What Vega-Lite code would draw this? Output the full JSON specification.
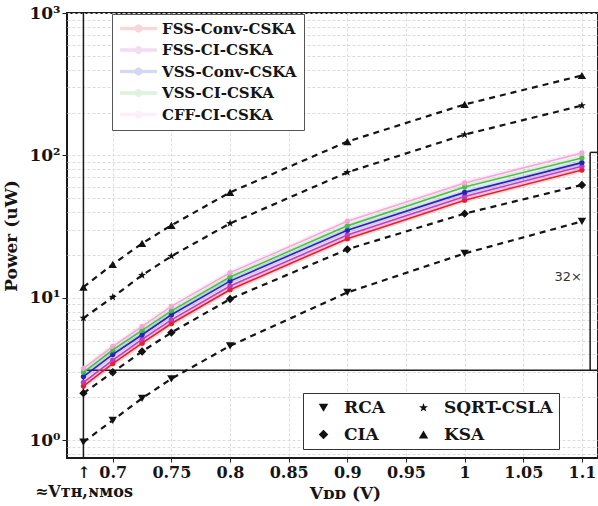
{
  "$schema": "https://vega.github.io/schema/vega-lite/v6.json",
  "width": 531,
  "height": 445,
  "autosize": {"type": "none"},
  "padding": {"left": 67, "top": 13, "right": 0, "bottom": 48},
  "background": "white",
  "config": {
    "view": {"stroke": "#1a1a1a", "strokeWidth": 2},
    "font": "DejaVu Serif",
    "axis": {
      "labelFont": "DejaVu Serif",
      "labelFontWeight": "bold",
      "labelFontSize": 16,
      "labelColor": "#151515",
      "titleFont": "DejaVu Serif",
      "titleFontWeight": "bold",
      "titleColor": "#151515",
      "domain": false,
      "tickColor": "#222",
      "gridColor": "#dcdcdc",
      "gridDash": [3, 2],
      "gridWidth": 1
    }
  },
  "datasets": {
    "designs": [
      {"v": 0.675, "p": 2.4, "s": "FSS-Conv-CSKA"},
      {"v": 0.7, "p": 3.45, "s": "FSS-Conv-CSKA"},
      {"v": 0.725, "p": 4.8, "s": "FSS-Conv-CSKA"},
      {"v": 0.75, "p": 6.6, "s": "FSS-Conv-CSKA"},
      {"v": 0.8, "p": 11.4, "s": "FSS-Conv-CSKA"},
      {"v": 0.9, "p": 26, "s": "FSS-Conv-CSKA"},
      {"v": 1.0, "p": 48.5, "s": "FSS-Conv-CSKA"},
      {"v": 1.1, "p": 79, "s": "FSS-Conv-CSKA"},
      {"v": 0.675, "p": 2.55, "s": "FSS-CI-CSKA"},
      {"v": 0.7, "p": 3.65, "s": "FSS-CI-CSKA"},
      {"v": 0.725, "p": 5.1, "s": "FSS-CI-CSKA"},
      {"v": 0.75, "p": 7.0, "s": "FSS-CI-CSKA"},
      {"v": 0.8, "p": 12.1, "s": "FSS-CI-CSKA"},
      {"v": 0.9, "p": 27.6, "s": "FSS-CI-CSKA"},
      {"v": 1.0, "p": 51.5, "s": "FSS-CI-CSKA"},
      {"v": 1.1, "p": 84, "s": "FSS-CI-CSKA"},
      {"v": 0.675, "p": 2.8, "s": "VSS-Conv-CSKA"},
      {"v": 0.7, "p": 4.0, "s": "VSS-Conv-CSKA"},
      {"v": 0.725, "p": 5.5, "s": "VSS-Conv-CSKA"},
      {"v": 0.75, "p": 7.6, "s": "VSS-Conv-CSKA"},
      {"v": 0.8, "p": 13.1, "s": "VSS-Conv-CSKA"},
      {"v": 0.9, "p": 29.8, "s": "VSS-Conv-CSKA"},
      {"v": 1.0, "p": 55, "s": "VSS-Conv-CSKA"},
      {"v": 1.1, "p": 89, "s": "VSS-Conv-CSKA"},
      {"v": 0.675, "p": 3.0, "s": "VSS-CI-CSKA"},
      {"v": 0.7, "p": 4.3, "s": "VSS-CI-CSKA"},
      {"v": 0.725, "p": 5.9, "s": "VSS-CI-CSKA"},
      {"v": 0.75, "p": 8.1, "s": "VSS-CI-CSKA"},
      {"v": 0.8, "p": 14.0, "s": "VSS-CI-CSKA"},
      {"v": 0.9, "p": 32, "s": "VSS-CI-CSKA"},
      {"v": 1.0, "p": 60, "s": "VSS-CI-CSKA"},
      {"v": 1.1, "p": 96, "s": "VSS-CI-CSKA"},
      {"v": 0.675, "p": 3.2, "s": "CFF-CI-CSKA"},
      {"v": 0.7, "p": 4.55, "s": "CFF-CI-CSKA"},
      {"v": 0.725, "p": 6.3, "s": "CFF-CI-CSKA"},
      {"v": 0.75, "p": 8.7, "s": "CFF-CI-CSKA"},
      {"v": 0.8, "p": 15.0, "s": "CFF-CI-CSKA"},
      {"v": 0.9, "p": 34.5, "s": "CFF-CI-CSKA"},
      {"v": 1.0, "p": 64, "s": "CFF-CI-CSKA"},
      {"v": 1.1, "p": 104, "s": "CFF-CI-CSKA"}
    ],
    "adders": [
      {"v": 0.675, "p": 0.97, "a": "RCA"},
      {"v": 0.7, "p": 1.38, "a": "RCA"},
      {"v": 0.725, "p": 1.97, "a": "RCA"},
      {"v": 0.75, "p": 2.7, "a": "RCA"},
      {"v": 0.8, "p": 4.6, "a": "RCA"},
      {"v": 0.9, "p": 10.9, "a": "RCA"},
      {"v": 1.0, "p": 20.5, "a": "RCA"},
      {"v": 1.1, "p": 34.4, "a": "RCA"},
      {"v": 0.675, "p": 2.14, "a": "CIA"},
      {"v": 0.7, "p": 3.0, "a": "CIA"},
      {"v": 0.725, "p": 4.2, "a": "CIA"},
      {"v": 0.75, "p": 5.7, "a": "CIA"},
      {"v": 0.8, "p": 9.8, "a": "CIA"},
      {"v": 0.9, "p": 21.9, "a": "CIA"},
      {"v": 1.0, "p": 39, "a": "CIA"},
      {"v": 1.1, "p": 62, "a": "CIA"},
      {"v": 0.675, "p": 7.2, "a": "SQRT-CSLA"},
      {"v": 0.7, "p": 10.1, "a": "SQRT-CSLA"},
      {"v": 0.725, "p": 14.4, "a": "SQRT-CSLA"},
      {"v": 0.75, "p": 19.6, "a": "SQRT-CSLA"},
      {"v": 0.8, "p": 33.3, "a": "SQRT-CSLA"},
      {"v": 0.9, "p": 76, "a": "SQRT-CSLA"},
      {"v": 1.0, "p": 140, "a": "SQRT-CSLA"},
      {"v": 1.1, "p": 224, "a": "SQRT-CSLA"},
      {"v": 0.675, "p": 11.9, "a": "KSA"},
      {"v": 0.7, "p": 17.2, "a": "KSA"},
      {"v": 0.725, "p": 24.1, "a": "KSA"},
      {"v": 0.75, "p": 32.3, "a": "KSA"},
      {"v": 0.8, "p": 55, "a": "KSA"},
      {"v": 0.9, "p": 125, "a": "KSA"},
      {"v": 1.0, "p": 228, "a": "KSA"},
      {"v": 1.1, "p": 364, "a": "KSA"}
    ]
  },
  "layer": [
    {
      "data": {"values": [{"x": 0.675}]},
      "mark": {"type": "rule", "color": "#1a1a1a", "strokeWidth": 1.5},
      "encoding": {
        "x": {
          "field": "x", "type": "quantitative",
          "scale": {"domain": [0.661, 1.1137], "nice": false, "zero": false},
          "axis": {
            "title": "Vᴅᴅ (V)",
            "titleFontSize": 17,
            "titleX": 278,
            "titleY": 27,
            "values": [0.675, 0.7, 0.75, 0.8, 0.85, 0.9, 0.95, 1, 1.05, 1.1],
            "labelExpr": "datum.value < 0.69 ? ['↑', '≈Vᴛʜ,ɴᴍᴏꜱ        '] : format(datum.value, '.3~g')",
            "labelOverlap": false,
            "labelFlush": false,
            "labelBound": false,
            "labelLineHeight": 19,
            "labelPadding": 2,
            "tickSize": 4,
            "tickOpacity": {"condition": {"test": "datum.value < 0.69", "value": 0}, "value": 1},
            "gridOpacity": {"condition": {"test": "datum.value < 0.69", "value": 0}, "value": 1}
          }
        }
      }
    },
    {
      "data": {"values": [{"x": 0.675, "x2": 1.1137, "y": 3.1}]},
      "mark": {"type": "rule", "color": "#1a1a1a", "strokeWidth": 1.5},
      "encoding": {
        "x": {"field": "x", "type": "quantitative"},
        "x2": {"field": "x2"},
        "y": {
          "field": "y", "type": "quantitative",
          "scale": {"type": "log", "domain": [0.75, 1000], "nice": false},
          "axis": {
            "title": "Power (uW)",
            "titleFontSize": 17,
            "titlePadding": 8,
            "labelFontSize": 17,
            "values": [0.8, 0.9, 1, 2, 3, 4, 5, 6, 7, 8, 9, 10, 20, 30, 40, 50, 60, 70, 80, 90, 100, 200, 300, 400, 500, 600, 700, 800, 900, 1000],
            "labelExpr": "abs(log(datum.value)/LN10 - round(log(datum.value)/LN10)) < 0.000001 ? '10' + ['⁰','¹','²','³'][round(log(datum.value)/LN10)] : ''",
            "labelOverlap": false,
            "labelBound": false,
            "labelFlush": false,
            "labelPadding": 2,
            "tickSize": 5,
            "tickOpacity": {"condition": {"test": "abs(log(datum.value)/LN10 - round(log(datum.value)/LN10)) < 0.000001", "value": 1}, "value": 0}
          }
        }
      }
    },
    {
      "data": {"values": [{"x": 1.107, "y": 3.1, "y2": 105}]},
      "mark": {"type": "rule", "color": "#1a1a1a", "strokeWidth": 1.5},
      "encoding": {
        "x": {"field": "x", "type": "quantitative"},
        "y": {"field": "y", "type": "quantitative"},
        "y2": {"field": "y2"}
      }
    },
    {
      "data": {"values": [{"x": 1.107, "x2": 1.1137, "y": 105}]},
      "mark": {"type": "rule", "color": "#1a1a1a", "strokeWidth": 1.5},
      "encoding": {
        "x": {"field": "x", "type": "quantitative"},
        "x2": {"field": "x2"},
        "y": {"field": "y", "type": "quantitative"}
      }
    },
    {
      "data": {"values": [{"x": 1.1, "y": 13.9, "t": "32×"}]},
      "mark": {"type": "text", "align": "right", "baseline": "middle", "font": "DejaVu Sans", "fontSize": 13, "color": "#333"},
      "encoding": {
        "x": {"field": "x", "type": "quantitative"},
        "y": {"field": "y", "type": "quantitative"},
        "text": {"field": "t"}
      }
    },
    {
      "data": {"name": "designs"},
      "mark": {"type": "point", "filled": true, "opacity": 1, "size": 28, "shape": "circle"},
      "encoding": {
        "x": {"field": "v", "type": "quantitative"},
        "y": {"field": "p", "type": "quantitative"},
        "color": {
          "field": "s", "type": "nominal",
          "scale": {
            "domain": ["FSS-Conv-CSKA", "FSS-CI-CSKA", "VSS-Conv-CSKA", "VSS-CI-CSKA", "CFF-CI-CSKA"],
            "range": ["#e3202a", "#c03cc0", "#2424b8", "#4cbf4c", "#f3a9d8"]
          },
          "legend": {
            "title": null,
            "orient": "none",
            "legendX": 45,
            "legendY": 1,
            "direction": "vertical",
            "strokeColor": "#555",
            "fillColor": "white",
            "padding": 7,
            "rowPadding": 5.5,
            "labelFont": "DejaVu Serif",
            "labelFontSize": 15,
            "labelFontWeight": "bold",
            "labelColor": "#151515",
            "symbolType": "M-3,-0.2H3V0.2H-3Z M-0.6,0A0.6,0.6 0 1,1 0.6,0A0.6,0.6 0 1,1 -0.6,0Z",
            "symbolSize": 144,
            "symbolOffset": 12,
            "labelOffset": 16,
            "symbolOpacity": 1,
            "symbolStrokeWidth": 1
          }
        }
      }
    },
    {
      "data": {"name": "designs"},
      "mark": {"type": "line", "strokeWidth": 5, "opacity": 0.18},
      "encoding": {
        "x": {"field": "v", "type": "quantitative"},
        "y": {"field": "p", "type": "quantitative"},
        "color": {"field": "s", "type": "nominal"}
      }
    },
    {
      "data": {"name": "designs"},
      "mark": {"type": "line", "strokeWidth": 1.6},
      "encoding": {
        "x": {"field": "v", "type": "quantitative"},
        "y": {"field": "p", "type": "quantitative"},
        "color": {"field": "s", "type": "nominal"}
      }
    },
    {
      "data": {"name": "adders"},
      "mark": {"type": "line", "color": "#151515", "strokeWidth": 2.2, "strokeDash": [6, 5]},
      "encoding": {
        "x": {"field": "v", "type": "quantitative"},
        "y": {"field": "p", "type": "quantitative"},
        "detail": {"field": "a"}
      }
    },
    {
      "data": {"name": "adders"},
      "mark": {"type": "point", "filled": true, "color": "#111", "opacity": 1, "size": 70},
      "encoding": {
        "x": {"field": "v", "type": "quantitative"},
        "y": {"field": "p", "type": "quantitative"},
        "shape": {
          "field": "a", "type": "nominal",
          "scale": {
            "domain": ["RCA", "SQRT-CSLA", "CIA", "KSA"],
            "range": ["triangle-down", "M0,-1L0.24,-0.33L0.95,-0.31L0.38,0.12L0.59,0.81L0,0.4L-0.59,0.81L-0.38,0.12L-0.95,-0.31L-0.24,-0.33Z", "diamond", "triangle-up"]
          },
          "legend": {
            "title": null,
            "orient": "none",
            "legendX": 236,
            "legendY": 380,
            "columns": 2,
            "direction": "horizontal",
            "strokeColor": "#333",
            "fillColor": "white",
            "padding": 6,
            "columnPadding": 24,
            "rowPadding": 9,
            "labelFont": "DejaVu Serif",
            "labelFontSize": 17,
            "labelFontWeight": "bold",
            "labelColor": "#151515",
            "symbolSize": 90,
            "symbolOffset": 6,
            "labelOffset": 12
          }
        }
      }
    }
  ]
}
